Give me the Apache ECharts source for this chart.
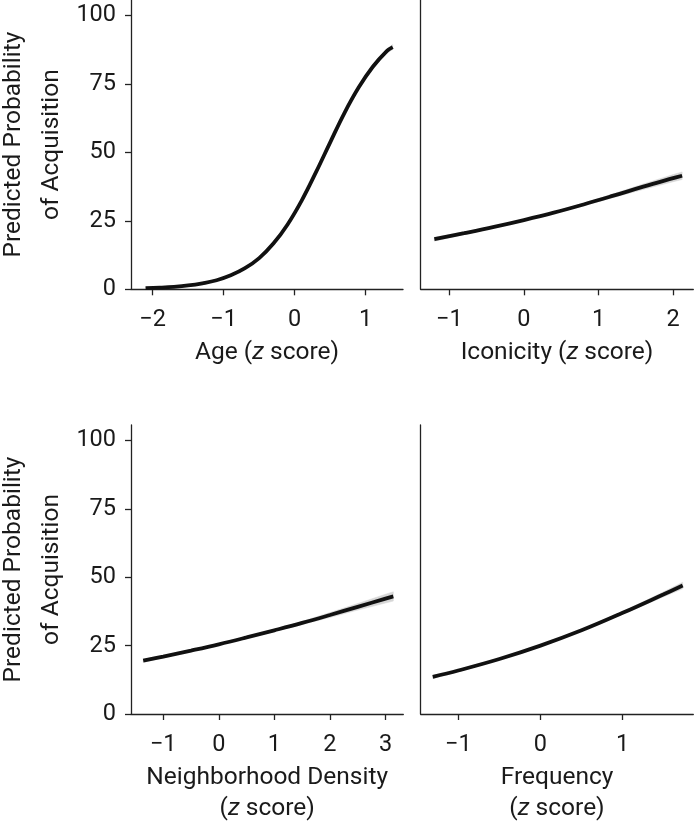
<!DOCTYPE html>
<html><head><meta charset="utf-8">
<script src="https://cdn.jsdelivr.net/npm/echarts@6/dist/echarts.min.js"></script>
<style>html,body{margin:0;padding:0;background:#fff}#c{width:696px;height:827px}</style>
</head><body><div id="c"></div>
<script>
// ---- data ----
const ageX = [-2.1,-1.9,-1.7,-1.5,-1.3,-1.1,-0.9,-0.7,-0.5,-0.3,-0.1,0.1,0.3,0.5,0.7,0.9,1.1,1.3,1.38];
const ageY = [0.4,0.6,0.9,1.4,2.2,3.3,5.1,7.7,11.4,16.7,23.7,32.5,42.8,53.7,64.4,73.7,81.3,87.1,88.5];
const ageLo = [0.3,0.5,0.8,1.3,2.0,3.1,4.9,7.5,11.1,16.4,23.4,32.2,42.5,53.3,63.9,73.1,80.6,86.3,87.6];
const ageHi = [0.5,0.7,1.0,1.5,2.4,3.5,5.3,7.9,11.7,17.0,24.0,32.8,43.1,54.1,64.9,74.3,82.0,87.9,89.4];

const iconX = [-1.2,-0.8,-0.4,0,0.4,0.8,1.2,1.6,2.0,2.12];
const iconY = [18.3,20.5,22.8,25.3,28.0,31.0,34.2,37.5,40.6,41.5];
const iconLo = [17.6,20.0,22.5,25.1,27.7,30.5,33.5,36.5,39.3,40.1];
const iconHi = [19.0,21.0,23.1,25.5,28.3,31.5,34.9,38.5,41.9,42.9];

const densX = [-1.36,-1,-0.5,0,0.5,1,1.5,2,2.5,3,3.14];
const densY = [19.5,21.0,23.2,25.5,28.0,30.6,33.3,36.2,39.2,42.2,43.0];
const densLo = [18.9,20.5,22.9,25.3,27.7,30.2,32.7,35.3,38.0,40.6,41.3];
const densHi = [20.1,21.5,23.5,25.7,28.3,31.0,33.9,37.1,40.4,43.8,44.7];

const freqX = [-1.31,-1,-0.5,0,0.5,1,1.5,1.73];
const freqY = [13.6,15.9,20.1,25.0,30.6,37.0,43.8,47.0];
const freqLo = [13.0,15.4,19.8,24.8,30.3,36.5,42.9,45.8];
const freqHi = [14.2,16.4,20.4,25.2,30.9,37.5,44.7,48.2];

const yTicks = [0,25,50,75,100];
const ageTicks = [-2,-1,0,1];
const iconTicks = [-1,0,1,2];
const densTicks = [-1,0,1,2,3];
const freqTicks = [-1,0,1];

const yTitle = 'Predicted Probability\nof Acquisition';
// ---------------------------------------

const FONT = "Roboto, 'Liberation Sans Narrow', sans-serif";
const AX = '#222';
const pairs = (xs, ys) => xs.map((x, i) => [x, ys[i]]);
const minus = v => String(v).replace('-', '\u2212');

const gridBase = {containLabel:false, outerBoundsMode:'none'};
const grids = [
  Object.assign({left:131, top:0, width:272, height:289.3}, gridBase),
  Object.assign({left:420.7, top:0, width:272.6, height:289.3}, gridBase),
  Object.assign({left:131, top:425, width:272.3, height:289}, gridBase),
  Object.assign({left:420.7, top:425, width:272.6, height:289}, gridBase)
];
const panels = [
  {x:ageX, y:ageY, lo:ageLo, hi:ageHi, ticks:ageTicks, min:-2.305, max:1.525, name:'{n|Age (}{i|z}{n| score)}', showY:true},
  {x:iconX, y:iconY, lo:iconLo, hi:iconHi, ticks:iconTicks, min:-1.383, max:2.27, name:'{n|Iconicity (}{i|z}{n| score)}', showY:false},
  {x:densX, y:densY, lo:densLo, hi:densHi, ticks:densTicks, min:-1.58, max:3.32, name:'{n|Neighborhood Density}\n{n|(}{i|z}{n| score)}', showY:true},
  {x:freqX, y:freqY, lo:freqLo, hi:freqHi, ticks:freqTicks, min:-1.457, max:1.859, name:'{n|Frequency}\n{n|(}{i|z}{n| score)}', showY:false}
];

const TS = 24.5;
const rich = {
  n:{fontFamily:FONT, fontSize:TS, color:'#1a1a1a', lineHeight:31},
  i:{fontFamily:FONT, fontSize:TS, color:'#1a1a1a', fontStyle:'italic', lineHeight:31}
};

function bandRenderer(p) {
  return function (params, api) {
    const i = params.dataIndex;
    if (i >= p.x.length - 1) return null;
    const a = api.coord([p.x[i], p.lo[i]]);
    const b = api.coord([p.x[i + 1], p.lo[i + 1]]);
    const c = api.coord([p.x[i + 1], p.hi[i + 1]]);
    const d = api.coord([p.x[i], p.hi[i]]);
    return {type:'polygon', shape:{points:[a, b, c, d]}, style:{fill:'#d6d6d6', stroke:'#d6d6d6', lineWidth:0.5}};
  };
}

const xAxis = [], yAxis = [], series = [];
panels.forEach((p, k) => {
  xAxis.push({
    type:'value', gridIndex:k, min:p.min, max:p.max,
    name:p.name, nameLocation:'middle', nameGap:48,
    nameTextStyle:{rich:rich, fontFamily:FONT, fontSize:TS, color:'#1a1a1a', lineHeight:31},
    axisLine:{show:true, onZero:false, lineStyle:{color:AX, width:1.3}},
    axisTick:{show:true, length:6, customValues:p.ticks, lineStyle:{color:AX, width:1.3}},
    axisLabel:{show:true, customValues:p.ticks, margin:19, fontFamily:FONT, fontSize:23.5, color:'#1a1a1a', formatter:minus},
    splitLine:{show:false}
  });
  yAxis.push({
    type:'value', gridIndex:k, min:0, max:105.7,
    name:p.showY ? yTitle : '', nameLocation:'middle', nameGap:60, nameRotate:90,
    nameTextStyle:{fontFamily:FONT, fontSize:TS, color:'#1a1a1a', lineHeight:38},
    axisLine:{show:true, onZero:false, lineStyle:{color:AX, width:1.3}},
    axisTick:{show:p.showY, length:6, customValues:yTicks, lineStyle:{color:AX, width:1.3}},
    axisLabel:{show:p.showY, customValues:yTicks, margin:15, fontFamily:FONT, fontSize:23.5, color:'#1a1a1a'},
    splitLine:{show:false}
  });
  series.push({
    type:'custom', xAxisIndex:k, yAxisIndex:k, silent:true, clip:true,
    renderItem:bandRenderer(p), data:pairs(p.x, p.y)
  });
  series.push({
    type:'line', xAxisIndex:k, yAxisIndex:k, symbol:'none', smooth:0.4, silent:true,
    lineStyle:{color:'#111', width:3.8, cap:'butt'}, data:pairs(p.x, p.y)
  });
});

const chart = echarts.init(document.getElementById('c'), null, {renderer:'canvas'});
chart.setOption({animation:false, backgroundColor:'#fff', grid:grids, xAxis:xAxis, yAxis:yAxis, series:series});
</script></body></html>
